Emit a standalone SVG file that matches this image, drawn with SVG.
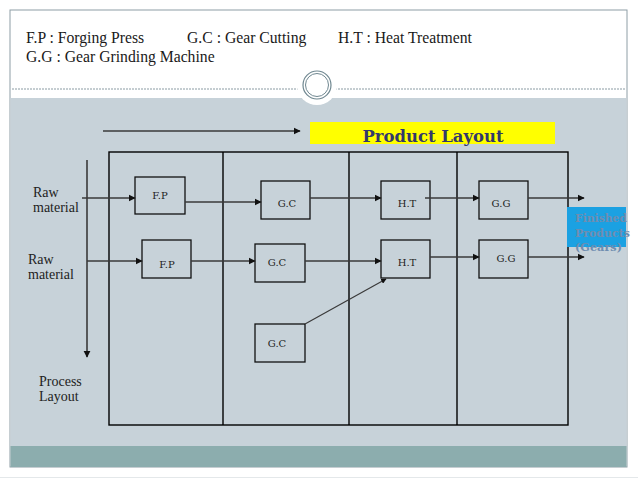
<svg xmlns="http://www.w3.org/2000/svg" width="638" height="479" viewBox="0 0 638 479">
<defs>
<style>
.hdr{font-family:"Liberation Serif","Times New Roman",serif;font-size:15.7px;fill:#1a1a1a}
.box{fill:none;stroke:#111;stroke-width:1.3}
.lbl{font-family:"DejaVu Serif",Georgia,serif;font-size:10px;fill:#222;text-anchor:middle}
.side{font-family:"Liberation Serif","Times New Roman",serif;font-size:14px;fill:#222}
.grid{fill:none;stroke:#000;stroke-width:1.4}
.arr{stroke:#3a3a3a;stroke-width:1.6;fill:none;marker-end:url(#ah)}
.fin{font-family:"DejaVu Serif",Georgia,serif;font-weight:bold;font-size:11px;fill:#6f8db0}
</style>
<marker id="ah" viewBox="0 0 10 10" refX="9" refY="5" markerWidth="4.5" markerHeight="4.5" orient="auto" markerUnits="strokeWidth">
<path d="M0,0 L10,5 L0,10 z" fill="#111"/>
</marker>
</defs>
<rect x="0" y="0" width="638" height="479" fill="#ffffff"/>
<line x1="0" y1="477.5" x2="638" y2="477.5" stroke="#e4e8ea" stroke-width="1"/>
<rect x="10" y="10" width="617" height="457" fill="#ffffff" stroke="#8e9ea6" stroke-width="1"/>
<rect x="10.5" y="98" width="616" height="348" fill="#c7d2d9"/>
<rect x="10.5" y="446" width="616" height="21" fill="#8cadae"/>
<line x1="12" y1="89" x2="300" y2="89" stroke="#8a9ba3" stroke-width="1" stroke-dasharray="2,1"/>
<line x1="335" y1="89" x2="625" y2="89" stroke="#8a9ba3" stroke-width="1" stroke-dasharray="2,1"/>
<circle cx="317" cy="85" r="20" fill="#ffffff"/>
<circle cx="317" cy="85" r="14" fill="#ffffff" stroke="#6f8790" stroke-width="1.2"/>
<circle cx="317" cy="85" r="11.5" fill="none" stroke="#6f8790" stroke-width="1"/>
<g id="legend">
<text class="hdr" x="26" y="43">F.P : Forging Press</text>
<text class="hdr" x="187" y="43">G.C : Gear Cutting</text>
<text class="hdr" x="338" y="43">H.T : Heat Treatment</text>
<text class="hdr" x="26" y="62">G.G : Gear Grinding Machine</text>
</g>
<g id="product-layout">
<rect x="310" y="122" width="245" height="22" fill="#ffff00"/>
<text x="433" y="142" text-anchor="middle" font-family="DejaVu Serif, Georgia, serif" font-weight="bold" font-size="17" fill="#33396b" textLength="141" lengthAdjust="spacingAndGlyphs">Product Layout</text>
</g>
<g id="grid">
<rect class="grid" x="109" y="152" width="459" height="273"/>
<line class="grid" x1="223" y1="152" x2="223" y2="425"/>
<line class="grid" x1="349" y1="152" x2="349" y2="425"/>
<line class="grid" x1="457" y1="152" x2="457" y2="425"/>
</g>
<g id="labels">
<text class="side" x="33" y="197">Raw</text>
<text class="side" x="33" y="212">material</text>
<text class="side" x="28" y="264">Raw</text>
<text class="side" x="28" y="279">material</text>
<text class="side" x="39" y="386">Process</text>
<text class="side" x="39" y="401">Layout</text>
</g>
<g id="fp1"><rect class="box" x="135" y="177" width="50" height="37"/><text class="lbl" x="160" y="199">F.P</text></g>
<g id="gc1"><rect class="box" x="261" y="181" width="49" height="38"/><text class="lbl" x="287" y="207">G.C</text></g>
<g id="ht1"><rect class="box" x="381" y="181" width="49" height="38"/><text class="lbl" x="407" y="207">H.T</text></g>
<g id="gg1"><rect class="box" x="479" y="181" width="49" height="38"/><text class="lbl" x="501" y="207">G.G</text></g>
<g id="fp2"><rect class="box" x="142" y="240" width="49" height="38"/><text class="lbl" x="167" y="268">F.P</text></g>
<g id="gc2"><rect class="box" x="255" y="244" width="50" height="38"/><text class="lbl" x="277" y="266">G.C</text></g>
<g id="ht2"><rect class="box" x="381" y="240" width="49" height="38"/><text class="lbl" x="407" y="266">H.T</text></g>
<g id="gg2"><rect class="box" x="479" y="240" width="49" height="38"/><text class="lbl" x="506" y="262">G.G</text></g>
<g id="gc3"><rect class="box" x="255" y="324" width="50" height="38"/><text class="lbl" x="277" y="347">G.C</text></g>
<g id="finished">
<rect x="567" y="207" width="59" height="40" fill="#1ba1e2"/>
<text class="fin" x="575" y="222" textLength="52" lengthAdjust="spacingAndGlyphs">Finished</text>
<text class="fin" x="575" y="237" textLength="55" lengthAdjust="spacingAndGlyphs">Products</text>
<text class="fin" x="575" y="251" textLength="47" lengthAdjust="spacingAndGlyphs">(Gears)</text>
</g>
<g id="connectors">
<line class="arr" x1="103" y1="131" x2="300" y2="131"/>
<line class="arr" x1="87" y1="160" x2="87" y2="357"/>
<line class="arr" x1="82" y1="198" x2="135" y2="198"/>
<line class="arr" x1="185" y1="202" x2="261" y2="202"/>
<line class="arr" x1="310" y1="198" x2="381" y2="198"/>
<line class="arr" x1="425" y1="198" x2="479" y2="198"/>
<line class="arr" x1="528" y1="198" x2="584" y2="198"/>
<line class="arr" x1="87" y1="261" x2="142" y2="261"/>
<line class="arr" x1="191" y1="261" x2="255" y2="261"/>
<line class="arr" x1="305" y1="261" x2="381" y2="261"/>
<line class="arr" x1="430" y1="257" x2="479" y2="257"/>
<line class="arr" x1="528" y1="257" x2="584" y2="257"/>
<line class="arr" x1="305" y1="324" x2="386" y2="279" style="stroke-width:1.2"/>
</g>
</svg>
